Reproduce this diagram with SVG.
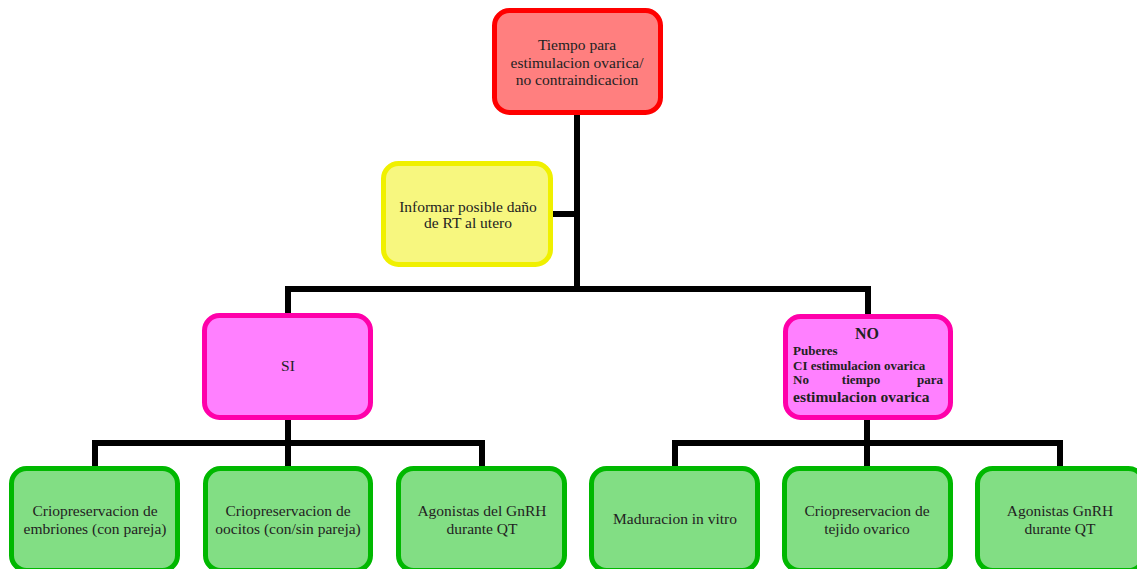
<svg xmlns="http://www.w3.org/2000/svg" width="1137" height="569" viewBox="0 0 1137 569">
<style>
.box{stroke-width:5}
.red{fill:#FF7F7F;stroke:#FF0000}
.yel{fill:#F7F77F;stroke:#F0F000}
.pink{fill:#FF80FF;stroke:#FF00AA}
.green{fill:#82DE84;stroke:#00B800}
text{font-size:15.5px;fill:#222}
.c{text-anchor:middle}
.b{font-weight:bold}
.s{font-size:13px}
.conn{fill:none;stroke:#000;stroke-width:6;stroke-linejoin:miter;stroke-linecap:butt}
</style>
<rect width="1137" height="569" fill="#fff"/>
<g id="connectors" class="conn">
<path d="M577,113 V289"/>
<path d="M551,214 H577"/>
<path d="M288,316 V289 H868 V316"/>
<path d="M288,418 V468"/>
<path d="M95,468 V443 H482 V468"/>
<path d="M867,419 V468"/>
<path d="M675,468 V443 H1060 V468"/>
</g>
<g font-family="'Liberation Serif', 'DejaVu Serif', 'Times New Roman', serif">
<g id="n_tiempo">
<rect class="box red" x="494.5" y="10.5" width="166" height="102" rx="15"/>
<text class="c" x="577" y="50">Tiempo para</text>
<text class="c" x="577" y="68">estimulacion ovarica/</text>
<text class="c" x="577" y="85">no contraindicacion</text>
</g>
<g id="n_informar">
<rect class="box yel" x="383.5" y="163.5" width="167" height="101" rx="15"/>
<text class="c" x="468" y="212">Informar posible daño</text>
<text class="c" x="468" y="228">de RT al utero</text>
</g>
<g id="n_si">
<rect class="box pink" x="204.5" y="315.5" width="166" height="102" rx="15"/>
<text class="c" x="288" y="371">SI</text>
</g>
<g id="n_no">
<rect class="box pink" x="785.5" y="316.5" width="165" height="101" rx="15"/>
<text class="c b" x="867" y="339" style="font-size:16px">NO</text>
<text class="b s" x="793" y="355">Puberes</text>
<text class="b s" x="793" y="370">CI estimulacion ovarica</text>
<text class="b s" x="793" y="384">No</text>
<text class="b s c" x="861" y="384">tiempo</text>
<text class="b s" x="943" y="384" style="text-anchor:end">para</text>
<text class="b" x="793" y="402">estimulacion ovarica</text>
</g>
<g id="n_embriones">
<rect class="box green" x="11.5" y="468.5" width="166" height="102" rx="15"/>
<text class="c" x="95" y="516">Criopreservacion de</text>
<text class="c" x="95" y="534">embriones (con pareja)</text>
</g>
<g id="n_oocitos">
<rect class="box green" x="205.5" y="468.5" width="165" height="102" rx="15"/>
<text class="c" x="288" y="516">Criopreservacion de</text>
<text class="c" x="288" y="534">oocitos (con/sin pareja)</text>
</g>
<g id="n_agonistas1">
<rect class="box green" x="398.5" y="468.5" width="166" height="102" rx="15"/>
<text class="c" x="482" y="516">Agonistas del GnRH</text>
<text class="c" x="482" y="534">durante QT</text>
</g>
<g id="n_maduracion">
<rect class="box green" x="591.5" y="468.5" width="166" height="102" rx="15"/>
<text class="c" x="675" y="524">Maduracion in vitro</text>
</g>
<g id="n_tejido">
<rect class="box green" x="784.5" y="468.5" width="166" height="102" rx="15"/>
<text class="c" x="867" y="516">Criopreservacion de</text>
<text class="c" x="867" y="534">tejido ovarico</text>
</g>
<g id="n_agonistas2">
<rect class="box green" x="977.5" y="468.5" width="166" height="102" rx="15"/>
<text class="c" x="1060" y="516">Agonistas GnRH</text>
<text class="c" x="1060" y="534">durante QT</text>
</g>
</g>
</svg>
